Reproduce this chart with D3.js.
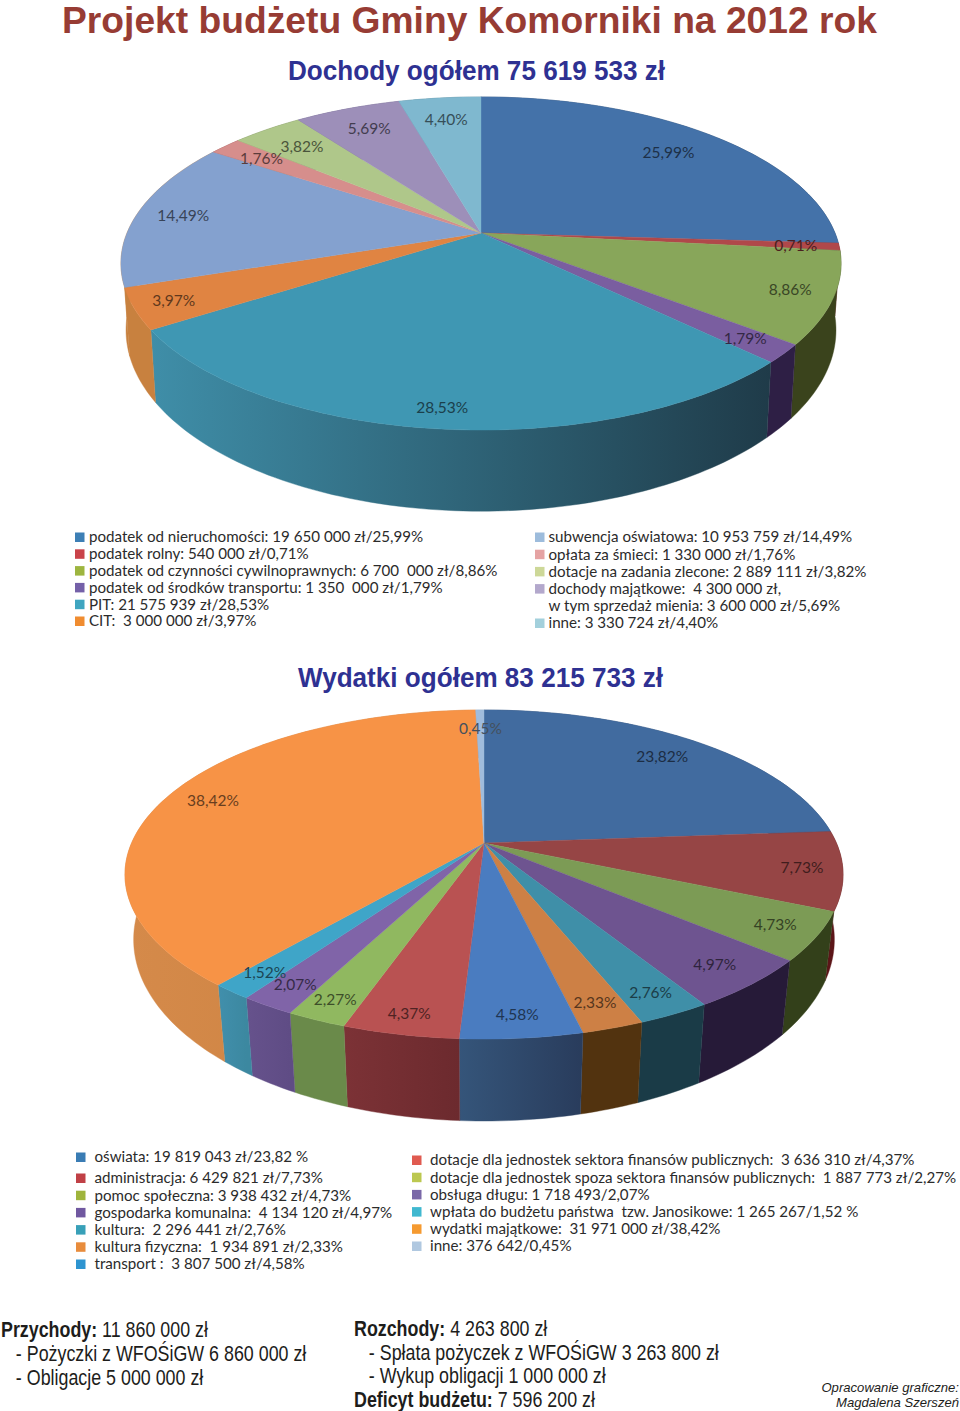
<!DOCTYPE html>
<html lang="pl">
<head>
<meta charset="utf-8">
<title>Projekt budżetu Gminy Komorniki na 2012 rok</title>
<script src="https://cdn.jsdelivr.net/npm/d3@7"></script>
<style>
  html, body { margin: 0; padding: 0; background: #fff; }
  svg { display: block; }
  .head { font-family: "Liberation Sans", Arial, sans-serif; font-weight: bold; }
  .leg, .pct { font-family: Lato, "Open Sans", sans-serif; }
  .leg { font-size: 15.15px; fill: #2b2b2b; }
  .pct { font-size: 15.5px; }
  .foot { font-family: "Liberation Sans", Arial, sans-serif; font-size: 21.5px; fill: #1d1d1b; }
  .credit { font-family: "Liberation Sans", Arial, sans-serif; font-style: italic; font-size: 13.1px; fill: #1d1d1b; }
</style>
</head>
<body>
<svg id="chart" width="960" height="1411" viewBox="0 0 960 1411"></svg>
<script>
// --------------------------------------------
// DANE
// --------------------------------------------
const dochodyValues = [25.99, 0.71, 8.86, 1.79, 28.53, 3.97, 14.49, 1.76, 3.82, 5.69, 4.4];
const dochodyTop = ["#4472a9", "#b0484a", "#88a65a", "#7a5ea0", "#3f97b3", "#e08442", "#84a1cf", "#d68e8c", "#afc78a", "#9d8fb9", "#7fb8cf"];
const dochodyWallFrom = ["#2c4a70", "#6a2022", "#3a431c", "#2e1f45", "#3f8ea8", "#c8813f", "#c8813f", "#905050", "#708050", "#605580", "#508090"];
const dochodyWallTo = ["#24405f", "#5c1518", "#3a431c", "#2e1f45", "#1f3b49", "#c8813f", "#c8813f", "#905050", "#708050", "#605580", "#508090"];
// odleglosc etykiety od srodka (1 = krawedz kola)
const dochodyLabelR = [0.8, 0.88, 0.885, 0.886, 0.908, 0.895, 0.866, 0.846, 0.82, 0.815, 0.82];

const wydatkiValues = [23.82, 7.73, 4.73, 4.97, 2.76, 2.33, 4.58, 4.37, 2.27, 2.07, 1.52, 38.42, 0.45];
const wydatkiTop = ["#416b9f", "#964545", "#7c9b55", "#6e5490", "#3f8fa8", "#cd8045", "#4a7cc0", "#b95252", "#90b860", "#8064a8", "#3fa5c8", "#f79346", "#a0bcdc"];
const wydatkiWallFrom = ["#2c4a70", "#5c1518", "#33401a", "#261a38", "#1a3b47", "#52330f", "#35557a", "#7c3236", "#6a8a4a", "#66528c", "#418fac", "#d58a4a", "#708aa8"];
const wydatkiWallTo = ["#2c4a70", "#5c1518", "#33401a", "#261a38", "#1a3b47", "#52330f", "#293c5c", "#6c2a2e", "#6a8a4a", "#5f4c85", "#3c88a0", "#c9803f", "#708aa8"];
const wydatkiLabelR = [0.83, 0.889, 0.887, 0.879, 0.895, 0.883, 0.9, 0.91, 0.905, 0.89, 0.887, 0.859, 0.842];

const dochodyLegendLeft = [
  "podatek od nieruchomości: 19 650 000 zł/25,99%",
  "podatek rolny: 540 000 zł/0,71%",
  "podatek od czynności cywilnoprawnych: 6 700  000 zł/8,86%",
  "podatek od środków transportu: 1 350  000 zł/1,79%",
  "PIT: 21 575 939 zł/28,53%",
  "CIT:  3 000 000 zł/3,97%",
];
const dochodyLegendLeftColors = ["#3d7fb5", "#c9434a", "#9db53f", "#7460a8", "#3fa5c0", "#f08c30"];
const dochodyLegendRight = [
  "subwencja oświatowa: 10 953 759 zł/14,49%",
  "opłata za śmieci: 1 330 000 zł/1,76%",
  "dotacje na zadania zlecone: 2 889 111 zł/3,82%",
  "dochody majątkowe:  4 300 000 zł,",
  "w tym sprzedaż mienia: 3 600 000 zł/5,69%",
  "inne: 3 330 724 zł/4,40%",
];
const dochodyLegendRightColors = ["#9dbcdc", "#e5a3a3", "#cdd898", "#b3a8cc", null, "#a3d0dc"];

const wydatkiLegendLeft = [
  "oświata: 19 819 043 zł/23,82 %",
  "administracja: 6 429 821 zł/7,73%",
  "pomoc społeczna: 3 938 432 zł/4,73%",
  "gospodarka komunalna:  4 134 120 zł/4,97%",
  "kultura:  2 296 441 zł/2,76%",
  "kultura fizyczna:  1 934 891 zł/2,33%",
  "transport :  3 807 500 zł/4,58%",
];
const wydatkiLegendLeftColors = ["#3a7cb4", "#c04046", "#9fb43c", "#7058a0", "#38a0b8", "#e88c3c", "#2e94d0"];
const wydatkiLegendRight = [
  "dotacje dla jednostek sektora finansów publicznych:  3 636 310 zł/4,37%",
  "dotacje dla jednostek spoza sektora finansów publicznych:  1 887 773 zł/2,27%",
  "obsługa długu: 1 718 493/2,07%",
  "wpłata do budżetu państwa  tzw. Janosikowe: 1 265 267/1,52 %",
  "wydatki majątkowe:  31 971 000 zł/38,42%",
  "inne: 376 642/0,45%",
];
const wydatkiLegendRightColors = ["#e05a50", "#bcc850", "#7a68a8", "#40b8d0", "#f59a30", "#b0c8e0"];

const footLeft = [["Przychody:", " 11 860 000 zł"], ["", "   - Pożyczki z WFOŚiGW 6 860 000 zł"], ["", "   - Obligacje 5 000 000 zł"]];
const footRight = [["Rozchody:", " 4 263 800 zł"], ["", "   - Spłata pożyczek z WFOŚiGW 3 263 800 zł"], ["", "   - Wykup obligacji 1 000 000 zł"], ["Deficyt budżetu:", " 7 596 200 zł"]];

// --------------------------------------------
// RYSOWANIE
// --------------------------------------------
const svg = d3.select("#chart");
const defs = svg.append("defs");
const fmt = (v) => v.toFixed(2).replace(".", ",") + "%";

// rzut kola na ekran (perspektywa): u = w prawo, v = do tylu
const project = (p) => (u, v) => {
  const d = 1 + p.k * v;
  return [p.cx + (p.a * u) / d, p.y0 - (p.b * v) / d];
};

const drawPie = (id, values, topColors, wallFrom, wallTo, labelR, top, bottom) => {
  const g = svg.append("g").attr("id", id);
  const arcs = d3.pie().sort(null).value((d) => d)(values);
  const pTop = project(top);
  const pBottom = project(bottom);
  const line = d3.line();
  const ring = (proj, a0, a1) => {
    const n = Math.max(2, Math.ceil((a1 - a0) / 0.02));
    return d3.range(n + 1).map((i) => {
      const t = a0 + ((a1 - a0) * i) / n;
      return proj(Math.sin(t), Math.cos(t));
    });
  };

  // sciany boczne
  arcs.forEach((d, i) => {
    const outer = ring(pTop, d.startAngle, d.endAngle);
    const lower = ring(pBottom, d.startAngle, d.endAngle).reverse();
    const xs = outer.map((q) => q[0]);
    const grad = defs.append("linearGradient")
      .attr("id", `${id}-wall-${i}`)
      .attr("gradientUnits", "userSpaceOnUse")
      .attr("x1", d3.min(xs)).attr("x2", d3.max(xs))
      .attr("y1", 0).attr("y2", 0);
    grad.append("stop").attr("offset", 0).attr("stop-color", wallFrom[i]);
    grad.append("stop").attr("offset", 1).attr("stop-color", wallTo[i]);
    g.append("path")
      .attr("d", line(outer.concat(lower)) + "Z")
      .attr("fill", `url(#${id}-wall-${i})`)
      .attr("stroke", `url(#${id}-wall-${i})`)
      .attr("stroke-width", 0.4);
  });

  // wierzch
  arcs.forEach((d, i) => {
    const pts = [pTop(0, 0)].concat(ring(pTop, d.startAngle, d.endAngle));
    g.append("path")
      .attr("d", line(pts) + "Z")
      .attr("fill", topColors[i])
      .attr("stroke", topColors[i])
      .attr("stroke-width", 0.4);
  });

  // etykiety procentowe
  arcs.forEach((d, i) => {
    const mid = (d.startAngle + d.endAngle) / 2;
    const [x, y] = pTop(labelR[i] * Math.sin(mid), labelR[i] * Math.cos(mid));
    g.append("text")
      .attr("class", "pct")
      .attr("x", x)
      .attr("y", y)
      .attr("dy", "0.35em")
      .attr("text-anchor", "middle")
      .attr("fill", d3.rgb(topColors[i]).darker(2.4))
      .text(fmt(d.data));
  });
};

const drawLegend = (labels, colors, swatchX, textX, yFirst, yLast) => {
  const y = d3.scalePoint().domain(d3.range(labels.length)).range([yFirst, yLast]);
  const g = svg.append("g");
  labels.forEach((label, i) => {
    if (colors[i]) {
      g.append("rect")
        .attr("x", swatchX)
        .attr("y", y(i) - 4.5)
        .attr("width", 9.5)
        .attr("height", 9.5)
        .attr("fill", colors[i]);
    }
    g.append("text")
      .attr("class", "leg")
      .attr("x", textX)
      .attr("y", y(i))
      .attr("dy", "0.35em")
      .style("white-space", "pre")
      .text(label);
  });
};

// stopka w oryginale jest zwezona - skala tylko w poziomie
const drawFoot = (rows, x, yFirst, step) => {
  rows.forEach((row, i) => {
    const t = svg.append("text")
      .attr("class", "foot")
      .attr("transform", `translate(${x},${yFirst + i * step}) scale(0.83,1)`)
      .style("white-space", "pre");
    if (row[0]) t.append("tspan").attr("font-weight", "bold").text(row[0]);
    t.append("tspan").text(row[1]);
  });
};

const drawHead = (label, x, y, width, size, color) => {
  svg.append("text")
    .attr("class", "head")
    .attr("x", x)
    .attr("y", y)
    .attr("font-size", size)
    .attr("fill", color)
    .attr("textLength", width)
    .attr("lengthAdjust", "spacingAndGlyphs")
    .text(label);
};

// Tytuly
drawHead("Projekt budżetu Gminy Komorniki na 2012 rok", 62, 33.2, 815, 36.5, "#973c34");
drawHead("Dochody ogółem 75 619 533 zł", 288, 80, 377, 27, "#2e3192");
drawHead("Wydatki ogółem 83 215 733 zł", 298, 687, 365, 27, "#2e3192");

// Wykresy
drawPie("dochody", dochodyValues, dochodyTop, dochodyWallFrom, dochodyWallTo, dochodyLabelR,
  { cx: 481, y0: 233, a: 354, b: 161, k: 0.183 },
  { cx: 481, y0: 297, a: 349, b: 175, k: 0.183 });
drawPie("wydatki", wydatkiValues, wydatkiTop, wydatkiWallFrom, wydatkiWallTo, wydatkiLabelR,
  { cx: 484, y0: 843, a: 352.4, b: 158.5, k: 0.1916 },
  { cx: 484, y0: 905, a: 344, b: 175, k: 0.19 });

// Legendy
drawLegend(dochodyLegendLeft, dochodyLegendLeftColors, 75, 89, 537, 621);
drawLegend(dochodyLegendRight, dochodyLegendRightColors, 535, 548.5, 537, 623);
drawLegend(wydatkiLegendLeft.slice(0, 1), wydatkiLegendLeftColors.slice(0, 1), 76, 94.5, 1157, 1157);
drawLegend(wydatkiLegendLeft.slice(1), wydatkiLegendLeftColors.slice(1), 76, 94.5, 1178, 1264);
drawLegend(wydatkiLegendRight, wydatkiLegendRightColors, 412, 430, 1160, 1246);

// Stopka
drawFoot(footLeft, 1, 1337, 24);
drawFoot(footRight, 354, 1336, 23.5);
svg.append("text").attr("class", "credit").attr("x", 959).attr("y", 1392)
  .attr("text-anchor", "end").text("Opracowanie graficzne:");
svg.append("text").attr("class", "credit").attr("x", 959).attr("y", 1407)
  .attr("text-anchor", "end").text("Magdalena Szerszeń");
</script>
</body>
</html>
